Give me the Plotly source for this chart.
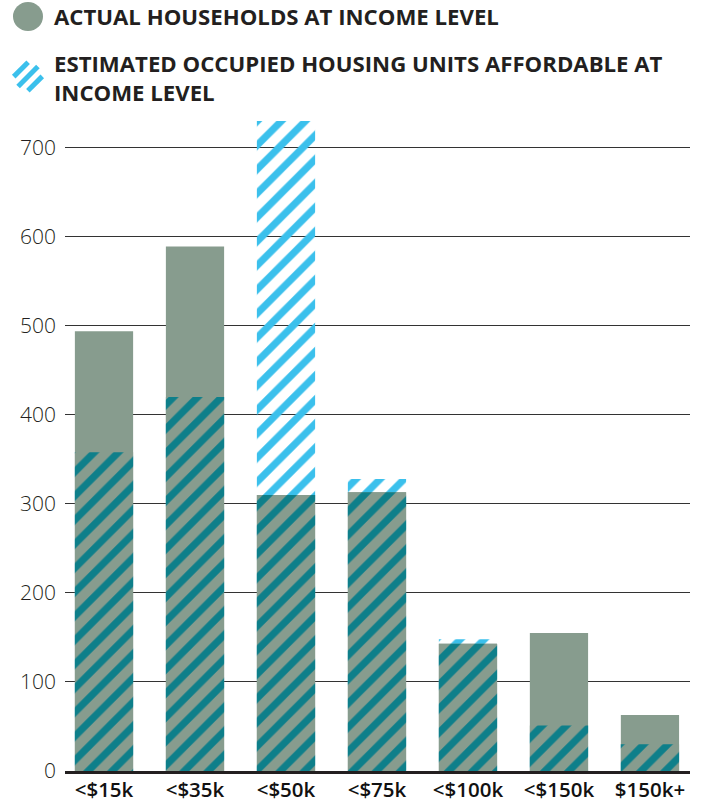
import plotly.graph_objects as go
import math

categories = ["<$15k", "<$35k", "<$50k", "<$75k", "<$100k", "<$150k", "$150k+"]
actual_households = [494, 589, 310, 313, 143, 155, 63]
affordable_units = [358, 420, 730, 328, 148, 51, 30]
y_ticks = [0, 100, 200, 300, 400, 500, 600, 700]

overlap = [min(a, b) for a, b in zip(actual_households, affordable_units)]

GREY = "#879c8e"
BLUE = "#3bc0ec"
TEAL = "#0e7f8a"
W, H = 710, 803
ML, MT = 65, 121
MR = W - 690
MB = H - 771

fig = go.Figure()
bw = 0.64
pat = dict(shape="/", size=17, solidity=0.42, fgopacity=1)
fig.add_trace(go.Bar(x=categories, y=affordable_units, width=bw,
                     marker=dict(color=BLUE, line=dict(width=0),
                                 pattern=dict(pat, fgcolor=BLUE, bgcolor="rgba(0,0,0,0)")),
                     showlegend=False, hoverinfo="skip"))
fig.add_trace(go.Bar(x=categories, y=actual_households, width=bw,
                     marker=dict(color=GREY, line=dict(width=0)),
                     showlegend=False, hoverinfo="skip"))
fig.add_trace(go.Bar(x=categories, y=overlap, width=bw,
                     marker=dict(color=GREY, line=dict(width=0),
                                 pattern=dict(pat, fgcolor=TEAL, bgcolor=GREY)),
                     showlegend=False, hoverinfo="skip"))

def px2paper(x, y):
    return (x - ML) / (W - ML - MR), 1 - (y - MT) / (H - MT - MB)

shapes = []
x0, y0 = px2paper(13, 2)
x1, y1 = px2paper(43, 31)
shapes.append(dict(type="circle", xref="paper", yref="paper", x0=x0, y0=y1, x1=x1, y1=y0,
                   fillcolor=GREY, line=dict(width=0)))
cx, cy, r = 28, 76.5, 15
for d in (-10, 0, 10):
    half = math.sqrt(max(r * r - d * d, 0)) - 1
    px_c = cx + d / math.sqrt(2)
    py_c = cy + d / math.sqrt(2)
    ax_, ay_ = px_c - half / math.sqrt(2), py_c + half / math.sqrt(2)
    bx_, by_ = px_c + half / math.sqrt(2), py_c - half / math.sqrt(2)
    a = px2paper(ax_, ay_)
    b = px2paper(bx_, by_)
    shapes.append(dict(type="line", xref="paper", yref="paper", x0=a[0], y0=a[1], x1=b[0], y1=b[1],
                       line=dict(color=BLUE, width=5)))

annotations = []
lfont = dict(family="Open Sans", size=22.2, color="#231f20", weight=700)
lx, ly = px2paper(52, 16.5)
annotations.append(dict(text="ACTUAL HOUSEHOLDS AT INCOME LEVEL", xref="paper", yref="paper",
                        x=lx, y=ly, xanchor="left", yanchor="middle", showarrow=False, font=lfont))
lx2, ly2 = px2paper(52, 77.5)
annotations.append(dict(text="ESTIMATED OCCUPIED HOUSING UNITS AFFORDABLE AT<br>INCOME LEVEL",
                        xref="paper", yref="paper", align="left",
                        x=lx2, y=ly2, xanchor="left", yanchor="middle", showarrow=False, font=lfont))

fig.update_layout(
    width=W, height=H, barmode="overlay", bargap=0.36,
    margin=dict(l=ML, r=MR, t=MT, b=MB, autoexpand=False),
    plot_bgcolor="white", paper_bgcolor="white",
    shapes=shapes, annotations=annotations,
    xaxis=dict(range=[-0.4286, 6.44], showgrid=False, showline=True, linecolor="#231f20",
               linewidth=3, ticks="", automargin=False, ticklabelstandoff=-2,
               tickfont=dict(family="Open Sans", size=20.5, color="#111", weight=600),
               fixedrange=True),
    yaxis=dict(range=[0, 730], tickvals=y_ticks, showgrid=True, gridcolor="#333", gridwidth=1,
               zeroline=False, showline=False, ticks="", ticklabelstandoff=8, automargin=False,
               tickfont=dict(family="Open Sans", size=21, color="#231f20", weight=300), fixedrange=True),
)

fig.write_html("out.html", config={"displayModeBar": False},
               post_script="document.body.style.margin='0';document.body.style.overflow='hidden';")
